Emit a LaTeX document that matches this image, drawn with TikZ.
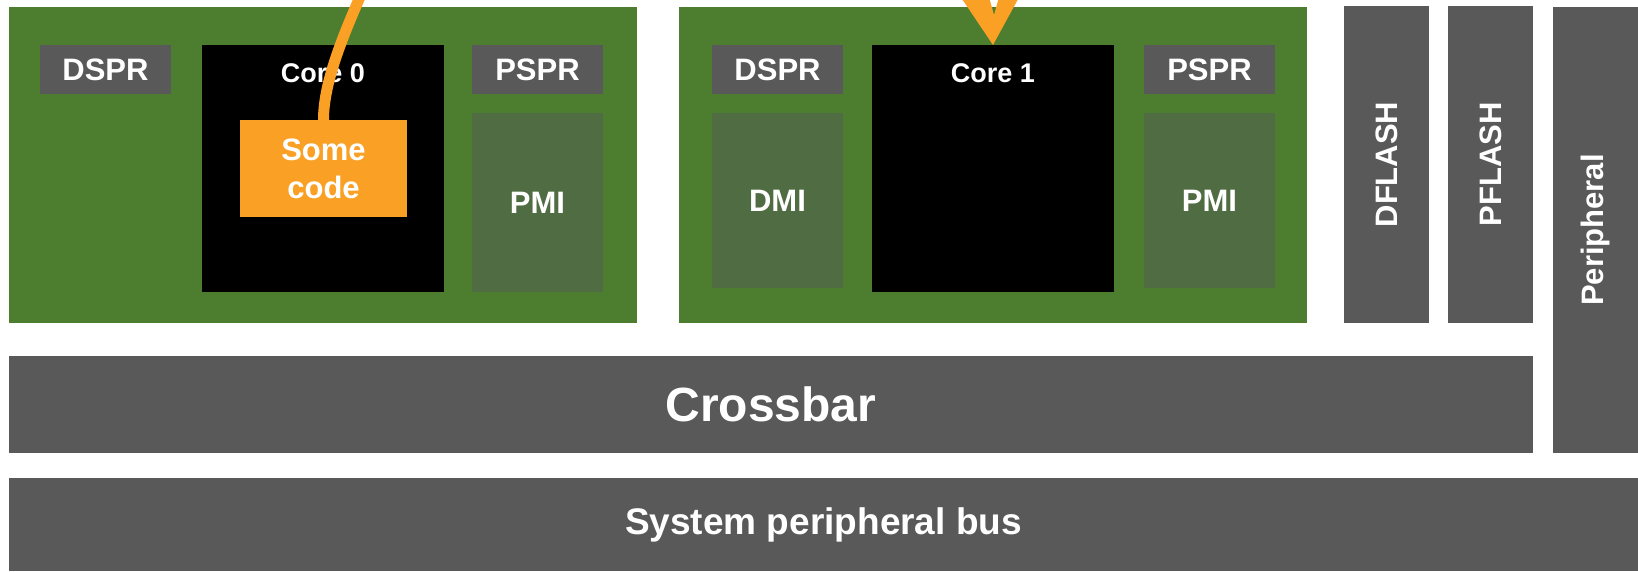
\documentclass[tikz,border=0pt]{standalone}
\usepackage{fontspec}
\setmainfont{Liberation Sans}
\usetikzlibrary{calc}

\definecolor{chipgreen}{RGB}{77,125,46}
\definecolor{blockgray}{RGB}{89,89,89}
\definecolor{memgreen}{RGB}{80,108,66}
\definecolor{codeorange}{RGB}{250,160,37}

\tikzset{
  blk/.style={rectangle, inner sep=0pt, outer sep=0pt, text=white, align=center,
              font=\bfseries\fontsize{31}{38}\selectfont},
  tile/.style={blk, fill=chipgreen},
  graybox/.style={blk, fill=blockgray},
  membox/.style={blk, fill=memgreen},
  corebox/.style={blk, fill=black},
  corelabel/.style={inner sep=0pt, outer sep=0pt, text=white, anchor=base,
              font=\bfseries\fontsize{27}{32}\selectfont},
  codebox/.style={blk, fill=codeorange},
  flow/.style={draw=codeorange, line width=11pt},
  spr/.style={graybox, minimum width=131pt, minimum height=49pt}
}

\begin{document}
\begin{tikzpicture}[x=1pt,y=-1pt]
  \useasboundingbox (0,0) rectangle (1638,571);
  \clip (0,0) rectangle (1638,571);
  \fill[white] (0,0) rectangle (1638,571);

  % CPU tiles
  \node[tile, minimum width=628pt, minimum height=316pt] (tile0) at (323,165) {};
  \node[tile, minimum width=628pt, minimum height=316pt] (tile1) at (993,165) {};

  % Tile 0
  \node[spr] (dspr0) at (105.5,69.5) {DSPR};
  \node[corebox, minimum width=242pt, minimum height=247pt] (core0) at (323,168.5) {};
  \node[corelabel] (core0lbl) at ($(core0.north)+(0,37)$) {Core 0};
  \node[spr] (pspr0) at (537.5,69.5) {PSPR};
  \node[membox, minimum width=131pt, minimum height=179pt] (pmi0) at (537.5,202.5) {PMI};
  \node[codebox, minimum width=167pt, minimum height=97pt] (code) at (323.5,168.5) {Some\\code};

  % Tile 1
  \node[spr] (dspr1) at (777.5,69.5) {DSPR};
  \node[membox, minimum width=131pt, minimum height=175pt] (dmi1) at (777.5,200.5) {DMI};
  \node[corebox, minimum width=242pt, minimum height=247pt] (core1) at (993,168.5) {};
  \node[corelabel] (core1lbl) at ($(core1.north)+(0,37)$) {Core 1};
  \node[spr] (pspr1) at (1209.5,69.5) {PSPR};
  \node[membox, minimum width=131pt, minimum height=175pt] (pmi1) at (1209.5,200.5) {PMI};

  % Flash and peripheral columns
  \node[graybox, rotate=90, minimum width=317pt, minimum height=85pt] (dflash) at (1386.5,164.5) {DFLASH};
  \node[graybox, rotate=90, minimum width=317pt, minimum height=85pt] (pflash) at (1490.5,164.5) {PFLASH};
  \node[graybox, rotate=90, minimum width=446pt, minimum height=85pt] (periph) at (1595.5,230) {Peripheral};

  % Buses
  \node[graybox, minimum width=1524pt, minimum height=97pt,
        font=\bfseries\fontsize{48}{56}\selectfont] (xbar) at (771,404.5) {Crossbar};
  \node[graybox, minimum width=1629pt, minimum height=93pt,
        font=\bfseries\fontsize{37}{44}\selectfont] (spb) at (823.5,524.5) {System peripheral bus};

  % Jump from the code block on core 0 over to core 1
  \begin{scope}
    \clip (0,0) rectangle (660,571);
    \draw[flow] (code.north) .. controls (323.5,80) and (345,30) .. (372,-30)
                .. controls (426,-150) and (993,-150) .. (core1.north);
  \end{scope}
  \fill[codeorange] (core1.north) -- ++(-37,-55) -- ++(31,0)
        -- ($(core1.north)+(1,-30)$) -- ($(core1.north)+(8,-55)$)
        -- ($(core1.north)+(30,-55)$) -- cycle;
\end{tikzpicture}
\end{document}
